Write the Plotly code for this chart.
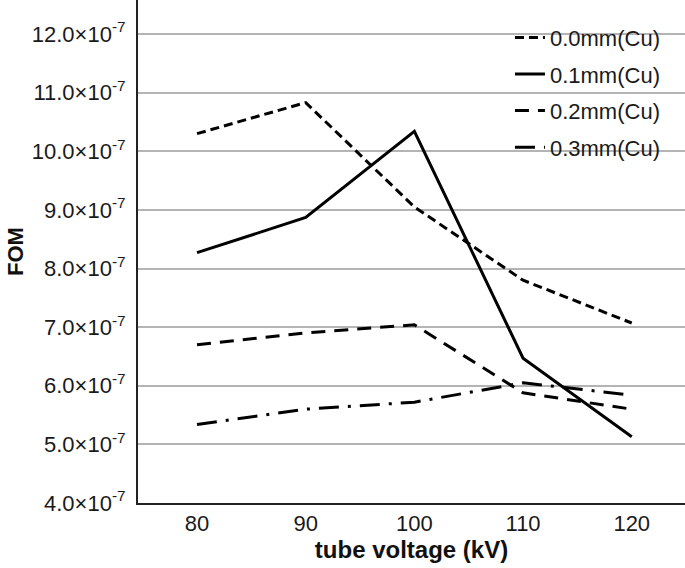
import plotly.graph_objects as go

# data (FOM in units of 1e-7)
voltages = [80, 90, 100, 110, 120]
fom_00 = [10.30, 10.83, 9.05, 7.80, 7.07]
fom_01 = [8.27, 8.87, 10.34, 6.47, 5.13]
fom_02 = [6.70, 6.90, 7.04, 5.88, 5.60]
fom_03 = [5.34, 5.60, 5.72, 6.05, 5.84]
series_names = ["0.0mm(Cu)", "0.1mm(Cu)", "0.2mm(Cu)", "0.3mm(Cu)"]
y_tick_vals = [4, 5, 6, 7, 8, 9, 10, 11, 12]
y_tick_text = [f"{v:.1f}×10<sup>-7</sup>" for v in y_tick_vals]
x_tick_vals = [80, 90, 100, 110, 120]

SCALE = 1e-7
FONT = "Arial, Liberation Sans, sans-serif"

dashes = ["9px,5px", "solid", "14px,9px", "20px,9px,3px,9px"]
series = [fom_00, fom_01, fom_02, fom_03]

fig = go.Figure()
for name, vals, dash in zip(series_names, series, dashes):
    fig.add_trace(go.Scatter(
        x=voltages,
        y=[v * SCALE for v in vals],
        mode="lines",
        name=name,
        legendgroup=name,
        line=dict(color="black", width=3, dash=dash),
    ))

fig.update_layout(
    width=685, height=568,
    margin=dict(l=138, r=0, t=0, b=65),
    paper_bgcolor="white", plot_bgcolor="white",
    font=dict(family=FONT, size=22, color="#1a1a1a"),
    showlegend=True,
    legend=dict(
        x=0.68, y=0.967, xanchor="left", yanchor="top",
        bgcolor="rgba(0,0,0,0)", borderwidth=0,
        traceorder="grouped", tracegroupgap=5,
        font=dict(family=FONT, size=22, color="#1a1a1a"),
    ),
    xaxis=dict(
        range=[74.57, 124.9],
        tickvals=x_tick_vals,
        ticktext=[str(v) for v in x_tick_vals],
        showgrid=False, zeroline=False,
        showline=True, linecolor="#222", linewidth=2,
        ticks="", automargin=False,
        title=dict(text="<b>tube voltage (kV)</b>", font=dict(size=24, color="#111"), standoff=5),
    ),
    yaxis=dict(
        range=[4 * SCALE, 12.58 * SCALE],
        tickvals=[v * SCALE for v in y_tick_vals],
        ticktext=y_tick_text,
        showgrid=True, gridcolor="#b4b4b4", gridwidth=1.5,
        zeroline=False,
        showline=True, linecolor="#222", linewidth=2,
        ticks="outside", ticklen=6, tickcolor="rgba(0,0,0,0)",
        automargin=False,
        title=dict(text="<b>FOM</b>", font=dict(size=22, color="#111"), standoff=2),
    ),
)

fig.write_html(
    "out.html",
    config={"displayModeBar": False},
    post_script="document.body.style.margin='0';document.body.style.padding='0';",
)
